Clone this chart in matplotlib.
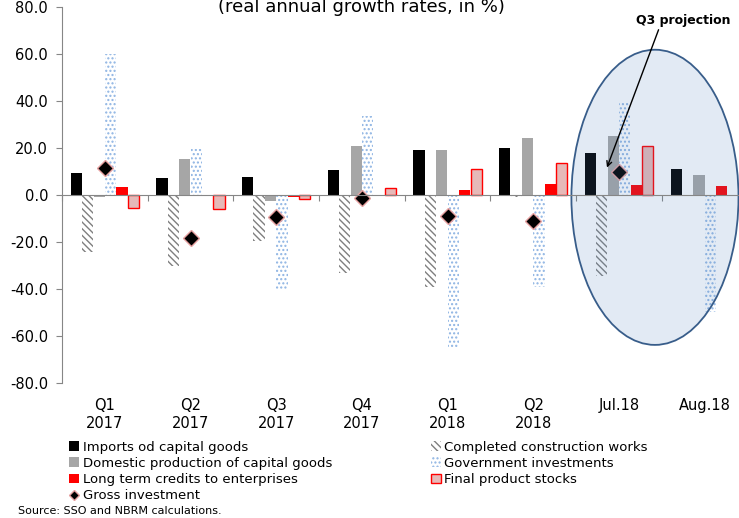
"""Investment indicators: real annual growth rates by quarter and month."""

import matplotlib

matplotlib.use("Agg")

import matplotlib.pyplot as plt
import numpy as np
from matplotlib.lines import Line2D
from matplotlib.patches import Ellipse

periods = ["Q1\n2017", "Q2\n2017", "Q3\n2017", "Q4\n2017", "Q1\n2018", "Q2\n2018", "Jul.18", "Aug.18"]

imports_capital = [9.7, 7.2, 7.7, 10.9, 19.2, 20.3, 18.0, 11.0]
construction_works = [-24.2, -29.9, -19.3, -33.0, -39.0, -0.8, -34.4, 0.0]
domestic_capital = [-0.8, 15.6, -2.4, 21.0, 19.2, 24.2, 25.4, 8.5]
government_inv = [60.0, 19.6, -40.5, 33.8, -64.4, -39.0, 39.3, -49.6]
long_term_credits = [3.7, -0.3, -0.8, 0.0, 2.1, 4.9, 4.5, 3.9]
product_stocks = [-5.2, -5.9, -1.7, 3.3, 11.0, 13.8, 21.1, np.nan]
gross_investment = [11.5, -18.3, -9.2, -1.0, -8.7, -11.1, 10.0, np.nan]

FONT = ["DejaVu Sans"]
AXIS_GREY = "#868686"

x = np.arange(len(periods))
width = 0.1333

fig = plt.figure(figsize=(7.39, 5.18), dpi=100)
ax = fig.add_axes([0.0839, 0.26, 0.9276, 0.7259])

bar_specs = [
    (imports_capital, "Imports od capital goods",
     dict(color="black", linewidth=0)),
    (construction_works, "Completed construction works",
     dict(facecolor="white", edgecolor="#7f7f7f", hatch="\\\\\\\\\\", linewidth=0)),
    (domestic_capital, "Domestic production of capital goods",
     dict(color="#a6a6a6", linewidth=0)),
    (government_inv, "Government investments",
     dict(facecolor="white", edgecolor="#8eb4e3", hatch="....", linewidth=0)),
    (long_term_credits, "Long term credits to enterprises",
     dict(color="#ff0000", linewidth=0)),
    (product_stocks, "Final product stocks",
     dict(facecolor="#e6b9b8", edgecolor="#ff0000", linewidth=1.0)),
]

handles = {}
for k, (values, label, style) in enumerate(bar_specs):
    offset = (k - 2.5) * width
    bars = ax.bar(x + offset, values, width * 0.98, label=label, zorder=2, **style)
    handles[label] = bars

diamond_style = dict(linestyle="none", marker="D", markerfacecolor="black",
                     markeredgecolor="#e6a0a0", markeredgewidth=1.0)
ax.plot(x, gross_investment, markersize=8, zorder=3, **diamond_style)
handles["Gross investment"] = Line2D([], [], markersize=5, **diamond_style)

# highlight on the monthly Q3 data
ax.add_patch(Ellipse((6.42, -0.85), 1.95, 125.6,
                     facecolor=(0.31, 0.51, 0.74, 0.16), edgecolor="#385d8a",
                     linewidth=1.3, zorder=4))
ax.annotate("Q3 projection", xy=(5.86, 11.8), xytext=(6.75, 74.4),
            ha="center", va="center", fontsize=9, fontweight="bold", family=FONT,
            arrowprops=dict(arrowstyle="->", color="black", linewidth=1.0,
                            shrinkA=0, shrinkB=0, relpos=(0.25, 0.0)),
            zorder=6)

ax.set_xlim(-0.5, len(periods) - 0.5)
ax.set_ylim(-80, 80)
ax.set_yticks(np.arange(-80, 81, 20))
ax.set_yticklabels([f"{v:.1f}" for v in np.arange(-80, 81, 20)], family=FONT, fontsize=10.5)
ax.tick_params(axis="y", direction="out", length=4, color=AXIS_GREY, pad=6)

# category separators on the zero line
ax.spines["bottom"].set_position(("data", 0))
ax.spines["bottom"].set_color(AXIS_GREY)
ax.spines["bottom"].set_zorder(5)
ax.set_xticks(np.arange(-0.5, len(periods)))
ax.set_xticklabels([])
ax.tick_params(axis="x", direction="out", length=4, color=AXIS_GREY)
ax.spines["left"].set_color(AXIS_GREY)
for side in ("top", "right"):
    ax.spines[side].set_visible(False)

for xi, label in zip(x, periods):
    ax.text(xi, -0.04, label, transform=ax.get_xaxis_transform(), ha="center",
            va="top", fontsize=10.5, family=FONT, linespacing=1.2)

order = [
    "Imports od capital goods",
    "Domestic production of capital goods",
    "Long term credits to enterprises",
    "Gross investment",
    "Completed construction works",
    "Government investments",
    "Final product stocks",
]
fig.legend([handles[name] for name in order], order, ncol=2, loc="upper left",
           bbox_to_anchor=(0.085, 1 - 434 / 518), frameon=False,
           prop={"family": FONT, "size": 9.5}, handlelength=0.75, handleheight=0.75,
           handletextpad=0.25, labelspacing=0.25, columnspacing=7.5, borderpad=0)

fig.text(361 / 739, 1 - 12 / 518, "(real annual growth rates, in %)",
         ha="center", va="baseline", fontsize=13, family=FONT)
fig.text(18 / 739, 1 - 514 / 518, "Source: SSO and NBRM calculations.",
         ha="left", va="baseline", fontsize=8, family=FONT)

fig.savefig("out.png", dpi=100)
plt.close(fig)
